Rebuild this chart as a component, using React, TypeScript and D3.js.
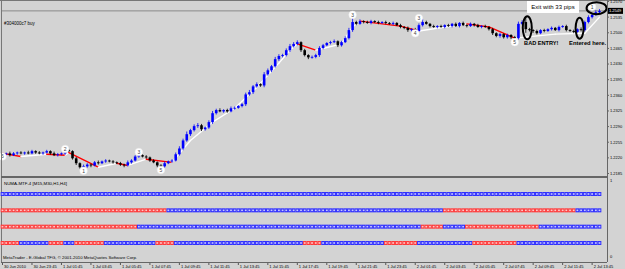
import React from "react";
import * as d3 from "d3";

// M15 closes, 30 Jun 21:45 -> 2 Jul 14:15
const closes = [
  1.2228, 1.223, 1.2226, 1.223, 1.2232, 1.223, 1.2232, 1.223, 1.2235, 1.2232,
  1.223, 1.2232, 1.2235, 1.223, 1.2226, 1.2228, 1.223, 1.2237, 1.2235, 1.2219,
  1.2208, 1.2199, 1.2201, 1.2205, 1.2203, 1.221, 1.2208, 1.2212, 1.2214, 1.2212,
  1.221, 1.2208, 1.2205, 1.2203, 1.221, 1.2214, 1.2223, 1.2226, 1.2223, 1.2221,
  1.2214, 1.221, 1.2203, 1.2201, 1.2208, 1.2212, 1.2214, 1.2228, 1.2241, 1.2259,
  1.2273, 1.2282, 1.2291, 1.2293, 1.2284, 1.2288, 1.23, 1.232, 1.2327, 1.2324,
  1.2327, 1.2324, 1.2331, 1.2332, 1.2336, 1.234, 1.2362, 1.2367, 1.238, 1.2385,
  1.2382, 1.2407, 1.2416, 1.2425, 1.2441, 1.2448, 1.245, 1.2461, 1.247, 1.2475,
  1.2479, 1.2461, 1.245, 1.2445, 1.2446, 1.245, 1.2466, 1.2472, 1.2477, 1.2479,
  1.2481, 1.2472, 1.2479, 1.2488, 1.2506, 1.2524, 1.252, 1.2526, 1.2524, 1.2522,
  1.2526, 1.2524, 1.2522, 1.2524, 1.2522, 1.252, 1.2522, 1.2517, 1.2513, 1.2511,
  1.2506, 1.2508, 1.2504, 1.2517, 1.2524, 1.252, 1.2515, 1.2513, 1.2515, 1.2513,
  1.2517, 1.2515, 1.252, 1.2515, 1.2522, 1.2517, 1.2515, 1.252, 1.2517, 1.2513,
  1.2515, 1.2513, 1.2508, 1.2499, 1.2493, 1.2497, 1.249, 1.2495, 1.249, 1.2488,
  1.252, 1.2524, 1.2508, 1.2506, 1.2504, 1.2499, 1.2506, 1.2504, 1.2508, 1.2511,
  1.2506, 1.2513, 1.2515, 1.2506, 1.2504, 1.2502, 1.2508, 1.2506, 1.2524, 1.2535,
  1.254, 1.2546, 1.2549,
];
const firstOpen = 1.2226;

// wick lengths in pips
const wickUp = [
  3, 2, 4, 3, 2, 3, 2, 4, 3, 2, 3, 2, 3, 2, 4, 3, 2, 5, 3, 2,
  3, 2, 4, 3, 2, 3, 4, 2, 3, 2, 3, 2, 3, 2, 4, 3, 3, 5, 2, 3,
  2, 3, 2, 3, 4, 2, 3, 4, 5, 4, 6, 3, 4, 5, 3, 2, 4, 5, 3, 4,
  2, 3, 4, 3, 2, 3, 4, 5, 3, 4, 2, 5, 4, 3, 5, 4, 3, 4, 5, 4,
  4, 2, 3, 2, 3, 3, 4, 3, 2, 3, 4, 2, 3, 4, 5, 11, 3, 4, 2, 3,
  3, 2, 3, 2, 3, 2, 3, 2, 3, 2, 3, 2, 3, 4, 7, 3, 2, 3, 2, 3,
  2, 3, 2, 3, 2, 3, 2, 3, 2, 3, 2, 3, 2, 3, 2, 3, 2, 3, 2, 3,
  5, 4, 11, 3, 2, 3, 2, 3, 2, 3, 2, 3, 2, 3, 2, 3, 2, 4, 3, 4,
  3, 4, 4,
];
const wickDn = [
  3, 2, 3, 2, 3, 2, 3, 2, 2, 3, 2, 3, 2, 3, 2, 3, 2, 3, 2, 3,
  4, 3, 11, 3, 4, 2, 3, 2, 3, 2, 3, 2, 3, 4, 2, 3, 2, 3, 2, 3,
  3, 2, 4, 9, 3, 2, 3, 2, 3, 4, 3, 4, 3, 4, 4, 3, 3, 4, 3, 2,
  3, 3, 2, 3, 2, 3, 4, 3, 4, 3, 3, 4, 3, 4, 3, 4, 3, 3, 4, 3,
  3, 4, 3, 4, 3, 3, 4, 3, 2, 3, 2, 4, 3, 2, 3, 4, 3, 2, 3, 2,
  3, 2, 3, 2, 3, 2, 3, 2, 3, 3, 4, 3, 5, 2, 3, 2, 3, 2, 3, 2,
  3, 2, 3, 2, 3, 2, 3, 2, 3, 2, 3, 2, 3, 4, 3, 4, 3, 3, 4, 5,
  3, 3, 8, 3, 4, 3, 2, 3, 2, 3, 2, 3, 2, 3, 2, 3, 2, 3, 3, 3,
  3, 2, 3,
];

// moving average knots (bar index, price)
const maIdx = [0, 5, 12, 17, 18, 26, 31, 34, 39, 46, 51, 57, 63, 69, 75, 78, 80, 85, 92, 95, 97, 108, 113, 126, 132, 139, 150, 158, 162];
const maVal = [
  1.223, 1.2223, 1.2228, 1.2226, 1.2232, 1.2199, 1.2208, 1.2203, 1.2217, 1.221,
  1.2259, 1.23, 1.2331, 1.2378, 1.2432, 1.2461, 1.2475, 1.2461, 1.2475, 1.2513,
  1.2526, 1.2515, 1.2504, 1.252, 1.2513, 1.2488, 1.2497, 1.2499, 1.2535,
];

// numbered pivot marks
const pivIdx = [0, 17, 22, 37, 43, 95, 113, 112, 139, 160];
const pivPrice = [1.2223, 1.224, 1.2191, 1.2233, 1.2193, 1.254, 1.2533, 1.2499, 1.2479, 1.2558];
const pivText = ["5", "2", "1", "3", "5", "3", "3", "4", "5", "1"];

// NUMA-MTF rows, run lengths of colour per bar
const rowNames = ["M15", "M30", "H1", "H4"];
const rowRuns: [string, number][][] = [
  [["b", 163]],
  [["r", 45], ["b", 75], ["r", 36], ["b", 7]],
  [["r", 37], ["b", 77], ["r", 6], ["b", 6], ["r", 20], ["b", 17]],
  [["r", 5], ["b", 8], ["r", 4], ["b", 3], ["r", 8], ["b", 14], ["r", 5], ["b", 35], ["r", 5], ["b", 17], ["r", 9], ["b", 15], ["r", 12], ["b", 23]],
];

const priceTicks = [1.257, 1.2535, 1.25, 1.2465, 1.243, 1.2395, 1.236, 1.2325, 1.229, 1.2255, 1.222, 1.2185];
const timeLabels = [
  "30 Jun 2010", "30 Jun 23:45", "1 Jul 01:45", "1 Jul 03:45", "1 Jul 05:45", "1 Jul 07:45",
  "1 Jul 09:45", "1 Jul 11:45", "1 Jul 13:45", "1 Jul 15:45", "1 Jul 17:45", "1 Jul 19:45",
  "1 Jul 21:45", "1 Jul 23:45", "2 Jul 01:45", "2 Jul 03:45", "2 Jul 05:45", "2 Jul 07:45",
  "2 Jul 09:45", "2 Jul 11:45", "2 Jul 13:45",
];

const W = 625;
const H = 269;
const font = "'Liberation Sans', Arial, sans-serif";

export default function App() {
  const x = d3.scaleLinear().domain([0, closes.length - 1]).range([2.5, 599.5]);
  const y = d3.scaleLinear().domain([1.2185, 1.257]).range([173.5, 1.5]);
  const rowY = d3.scalePoint().domain(rowNames).range([194, 243]);
  const levelY = d3.scaleLinear().domain([0, 1]).range([257, 181]);
  const step = x(1) - x(0);
  const bodyW = 2.6;
  const axisX = 607;

  const candles = closes.map((c, i) => {
    const o = i === 0 ? firstOpen : closes[i - 1];
    return {
      i,
      o,
      c,
      hi: Math.max(o, c) + wickUp[i] * 0.0001,
      lo: Math.min(o, c) - wickDn[i] * 0.0001,
    };
  });

  const line = d3
    .line<[number, number]>()
    .x((d) => x(d[0]))
    .y((d) => y(d[1]));

  const maSegs = maIdx.slice(1).map((idx, k) => ({
    d: line([
      [maIdx[k], maVal[k]],
      [idx, maVal[k + 1]],
    ]),
    up: maVal[k + 1] >= maVal[k],
  }));

  const cells: { row: string; i: number; c: string }[] = [];
  rowRuns.forEach((runs, r) => {
    let i = 0;
    runs.forEach(([c, n]) => {
      for (let k = 0; k < n; k++) cells.push({ row: rowNames[r], i: i++, c });
    });
  });

  const last = closes[closes.length - 1];

  return (
    <svg
      width={W}
      height={H}
      style={{ position: "absolute", left: 0, top: 0, display: "block" }}
      fontFamily={font}
    >
      <rect width={W} height={H} fill="#d3d3d3" />

      {/* bid line */}
      <line x1={1} x2={axisX} y1={y(last)} y2={y(last)} stroke="#8a8a8a" strokeWidth={1} />

      {/* MA */}
      {maSegs.map((s, k) => (
        <path key={k} d={s.d || ""} stroke={s.up ? "#ffffff" : "#ff0000"} strokeWidth={1.4} fill="none" strokeLinecap="round" />
      ))}

      {/* candles */}
      {candles.map((d) => {
        const up = d.c >= d.o;
        const col = up ? "#0000ff" : "#000000";
        const top = y(Math.max(d.o, d.c));
        const h = Math.max(0.8, y(Math.min(d.o, d.c)) - top);
        return (
          <g key={d.i}>
            <line x1={x(d.i)} x2={x(d.i)} y1={y(d.hi)} y2={y(d.lo)} stroke={col} strokeWidth={0.8} />
            <rect x={x(d.i) - bodyW / 2} y={top} width={bodyW} height={h} fill={col} />
          </g>
        );
      })}

      {/* pivot numbers */}
      {pivIdx.map((idx, k) => (
        <g key={k} transform={`translate(${x(idx)},${y(pivPrice[k])})`}>
          <circle r={3.8} fill="#ffffff" stroke="#e8e8e8" strokeWidth={0.5} />
          <text fontSize={5} textAnchor="middle" dy="1.8" fill="#444">
            {pivText[k]}
          </text>
        </g>
      ))}

      <text x={4} y={25} fontSize={4.5} fill="#000">#304000c7 buy</text>

      {/* annotations */}
      <rect x={527} y={0} width={52} height={13} fill="#ffffff" />
      <text x={553} y={9} fontSize={6} textAnchor="middle" fill="#000">Exit with 33 pips</text>
      <ellipse cx={x(142.4)} cy={y(1.2511)} rx={4.5} ry={11.5} fill="none" stroke="#000" strokeWidth={2} />
      <ellipse cx={x(156.6)} cy={y(1.251)} rx={4} ry={10.5} fill="none" stroke="#000" strokeWidth={2} />
      <ellipse cx={x(161.2)} cy={y(1.2555)} rx={10} ry={6} fill="none" stroke="#000" strokeWidth={2} />
      <text x={x(142.4) + 14} y={45} fontSize={5.6} fontWeight="bold" textAnchor="middle" fill="#000">BAD ENTRY!</text>
      <text x={x(156.6) + 8} y={45} fontSize={5.8} fontWeight="bold" textAnchor="middle" fill="#000">Entered here.</text>

      {/* frames */}
      <line x1={0} x2={W} y1={0.5} y2={0.5} stroke="#777" />
      <line x1={1.5} x2={1.5} y1={0} y2={262} stroke="#777" />
      <line x1={axisX + 0.5} x2={axisX + 0.5} y1={0} y2={262} stroke="#666" />
      <line x1={1} x2={axisX} y1={177} y2={177} stroke="#666" strokeWidth={2} />
      <line x1={1} x2={axisX} y1={262.5} y2={262.5} stroke="#666" />

      {/* price axis */}
      {priceTicks.map((p) => (
        <g key={p}>
          <line x1={axisX} x2={axisX + 2} y1={y(p)} y2={y(p)} stroke="#666" />
          <text x={axisX + 3} y={y(p) + 1.4} fontSize={4} fill="#000">{p.toFixed(4)}</text>
        </g>
      ))}
      <rect x={axisX + 1} y={y(last) - 3} width={15} height={6} fill="#000" />
      <text x={axisX + 2} y={y(last) + 1.4} fontSize={4} fill="#fff">{last.toFixed(4)}</text>

      {/* indicator window */}
      <text x={4} y={185} fontSize={4.4} fill="#000">NUMA-MTF-4 [M15,M30,H1,H4]</text>
      {cells.map((d) => {
        const cx = x(d.i);
        const cy = rowY(d.row) as number;
        const blue = d.c === "b";
        return (
          <g key={d.row + d.i}>
            <rect x={cx - step / 2} y={cy - 2} width={step} height={4} fill={blue ? "#3030ff" : "#ff3a3a"} />
            <rect x={cx - 0.9} y={cy - 0.8} width={1.8} height={1.6} fill={blue ? "#c8c8ff" : "#ffc8c8"} />
          </g>
        );
      })}
      {[1, 0].map((v) => (
        <text key={v} x={axisX + 3} y={levelY(v) + 1.4} fontSize={4} fill="#000">{v}</text>
      ))}
      <text x={3} y={259} fontSize={4.3} fill="#000">
        MetaTrader - E-Global TFG, © 2001-2010 MetaQuotes Software Corp.
      </text>

      {/* time axis */}
      {timeLabels.map((t, k) => (
        <g key={t}>
          <line x1={x(k * 8)} x2={x(k * 8)} y1={263} y2={265} stroke="#555" />
          <text x={x(k * 8) + 1.5} y={268} fontSize={4} fill="#000">{t}</text>
        </g>
      ))}
    </svg>
  );
}
